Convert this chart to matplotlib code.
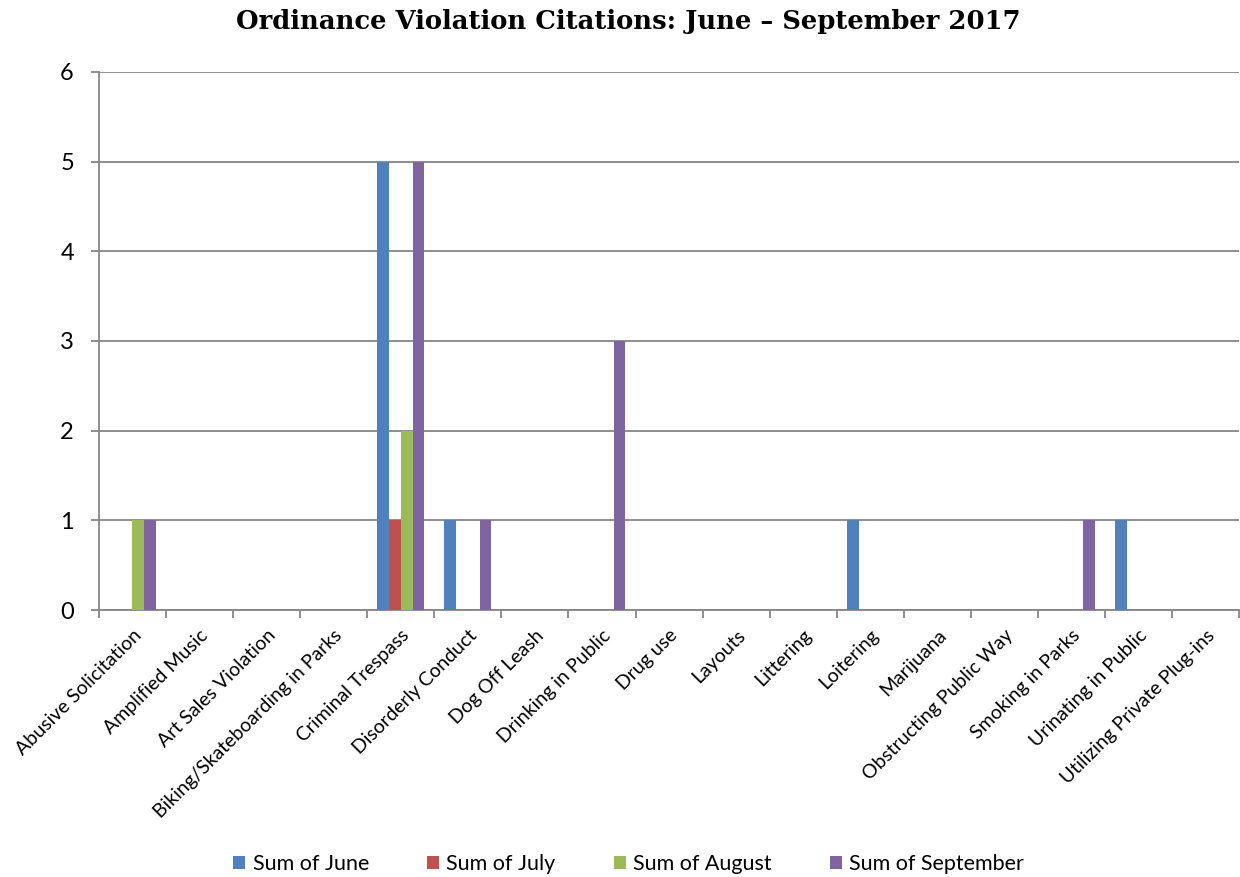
import numpy as np
import matplotlib
matplotlib.use("Agg")
import matplotlib.pyplot as plt

# data
categories = [
    "Abusive Solicitation", "Amplified Music", "Art Sales Violation",
    "Biking/Skateboarding in Parks", "Criminal Trespass", "Disorderly Conduct",
    "Dog Off Leash", "Drinking in Public", "Drug use", "Layouts", "Littering",
    "Loitering", "Marijuana", "Obstructing Public Way", "Smoking in Parks",
    "Urinating in Public", "Utilizing Private Plug-ins",
]
june = [0, 0, 0, 0, 5, 1, 0, 0, 0, 0, 0, 1, 0, 0, 0, 1, 0]
july = [0, 0, 0, 0, 1, 0, 0, 0, 0, 0, 0, 0, 0, 0, 0, 0, 0]
august = [1, 0, 0, 0, 2, 0, 0, 0, 0, 0, 0, 0, 0, 0, 0, 0, 0]
september = [1, 0, 0, 0, 5, 1, 0, 3, 0, 0, 0, 0, 0, 0, 1, 0, 0]
series_names = ["Sum of June", "Sum of July", "Sum of August", "Sum of September"]
colors = ["#4F81BD", "#C0504D", "#9BBB59", "#8064A2"]

fig = plt.figure(figsize=(12.4, 8.77), dpi=100)
ax = fig.add_axes([0.0798, 0.3044, 0.9195, 0.6136])

x = np.arange(len(categories))
w = 0.175
for i, (vals, name, c) in enumerate(zip([june, july, august, september], series_names, colors)):
    ax.bar(x + (i - 1.5) * w, vals, width=w, color=c, label=name, zorder=3)

ax.set_xlim(-0.5, len(categories) - 0.5)
ax.set_ylim(0, 6)
ax.set_yticks(range(7))
ax.yaxis.grid(True, color="#868686", linewidth=1.3, zorder=0)

# category separators as major ticks, names on minor ticks
ax.set_xticks(np.arange(len(categories) + 1) - 0.5)
ax.set_xticklabels([])
ax.set_xticks(x, minor=True)
ax.set_xticklabels(categories, minor=True, rotation=45, ha="right",
                   rotation_mode="anchor", fontsize=14, family="Lato")
ax.tick_params(axis="x", which="minor", length=0, pad=12)
ax.tick_params(axis="x", which="major", length=6, color="#868686", width=1.3)
ax.tick_params(axis="y", length=6, color="#868686", width=1.3, labelsize=17, pad=12)
for lab in ax.get_yticklabels():
    lab.set_family("Lato")

for s in ["top", "right"]:
    ax.spines[s].set_visible(False)
for s in ["left", "bottom"]:
    ax.spines[s].set_color("#868686")
    ax.spines[s].set_linewidth(1.3)

fig.text(0.507, 0.975, "Ordinance Violation Citations: June \u2013 September 2017",
         ha="center", va="center", fontsize=18.6, fontweight="bold", family="DejaVu Serif")

fig.legend(loc="center", bbox_to_anchor=(0.507, 0.015), ncol=4, frameon=False,
           prop={"family": "Lato", "size": 15.5}, handlelength=0.55, handleheight=0.55,
           handletextpad=0.35, columnspacing=2.7)

fig.savefig("out.png", dpi=100)
